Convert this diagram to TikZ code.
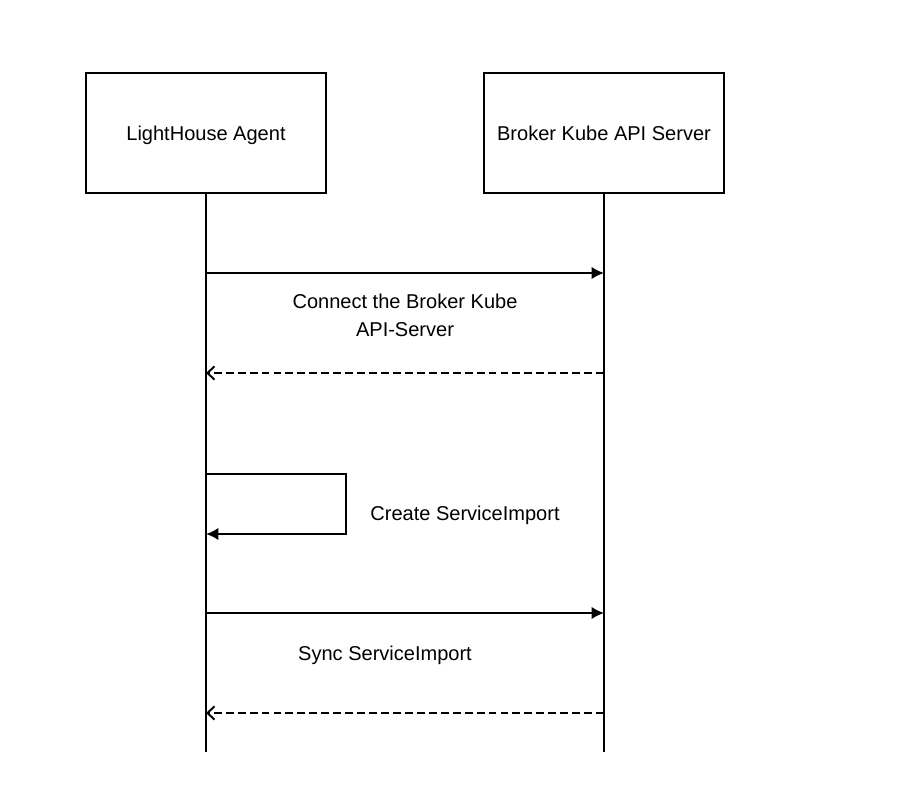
\documentclass[tikz,border=0pt]{standalone}
\usepackage{fontspec}
\setmainfont{Liberation Sans}
\usetikzlibrary{arrows.meta}

\begin{document}
\begin{tikzpicture}[x=0.02cm,y=-0.02cm,line width=1.1pt,
    font=\fontsize{11.4}{16}\selectfont,
    actor/.style={draw,minimum width=4.8cm,minimum height=2.4cm,text height=11pt,text depth=2.5pt},
    call/.style={-{Latex[length=7pt,width=7pt]}},
    answer/.style={-{Straight Barb[length=4pt,width=7.5pt]},dash pattern=on 4.5pt off 2.3pt}]
  \useasboundingbox (0,0) rectangle (908,790);
   \draw (206,133) node[actor] (agent) {LightHouse Agent};
   \draw (604,133) node[actor] (broker) {Broker Kube API Server};
   \coordinate (agentend) at (206,752);
   \coordinate (brokerend) at (604,752);

   \coordinate (a1) at (206,273);  \coordinate (b1) at (604,273);
   \coordinate (a2) at (206,373);  \coordinate (b2) at (604,373);
   \coordinate (a3) at (206,474);  \coordinate (l3) at (346,474);
   \coordinate (a4) at (206,534);  \coordinate (l4) at (346,534);
   \coordinate (a5) at (206,613);  \coordinate (b5) at (604,613);
   \coordinate (a6) at (206,713);  \coordinate (b6) at (604,713);

   \draw (405,315) node[align=center] (connect) {Connect the Broker Kube\\API-Server};
   \draw (465,515) node (create) {Create ServiceImport};
   \draw (385,655) node (sync) {Sync ServiceImport};

    \path[-] (agent) edge (agentend);
    \path[-] (broker) edge (brokerend);
    \path[call] (a1) edge (b1);
    \path[answer] (b2) edge (a2);
    \draw[call] (a3) -- (l3) -- (l4) -- (a4);
    \path[call] (a5) edge (b5);
    \path[answer] (b6) edge (a6);

\end{tikzpicture}
\end{document}
